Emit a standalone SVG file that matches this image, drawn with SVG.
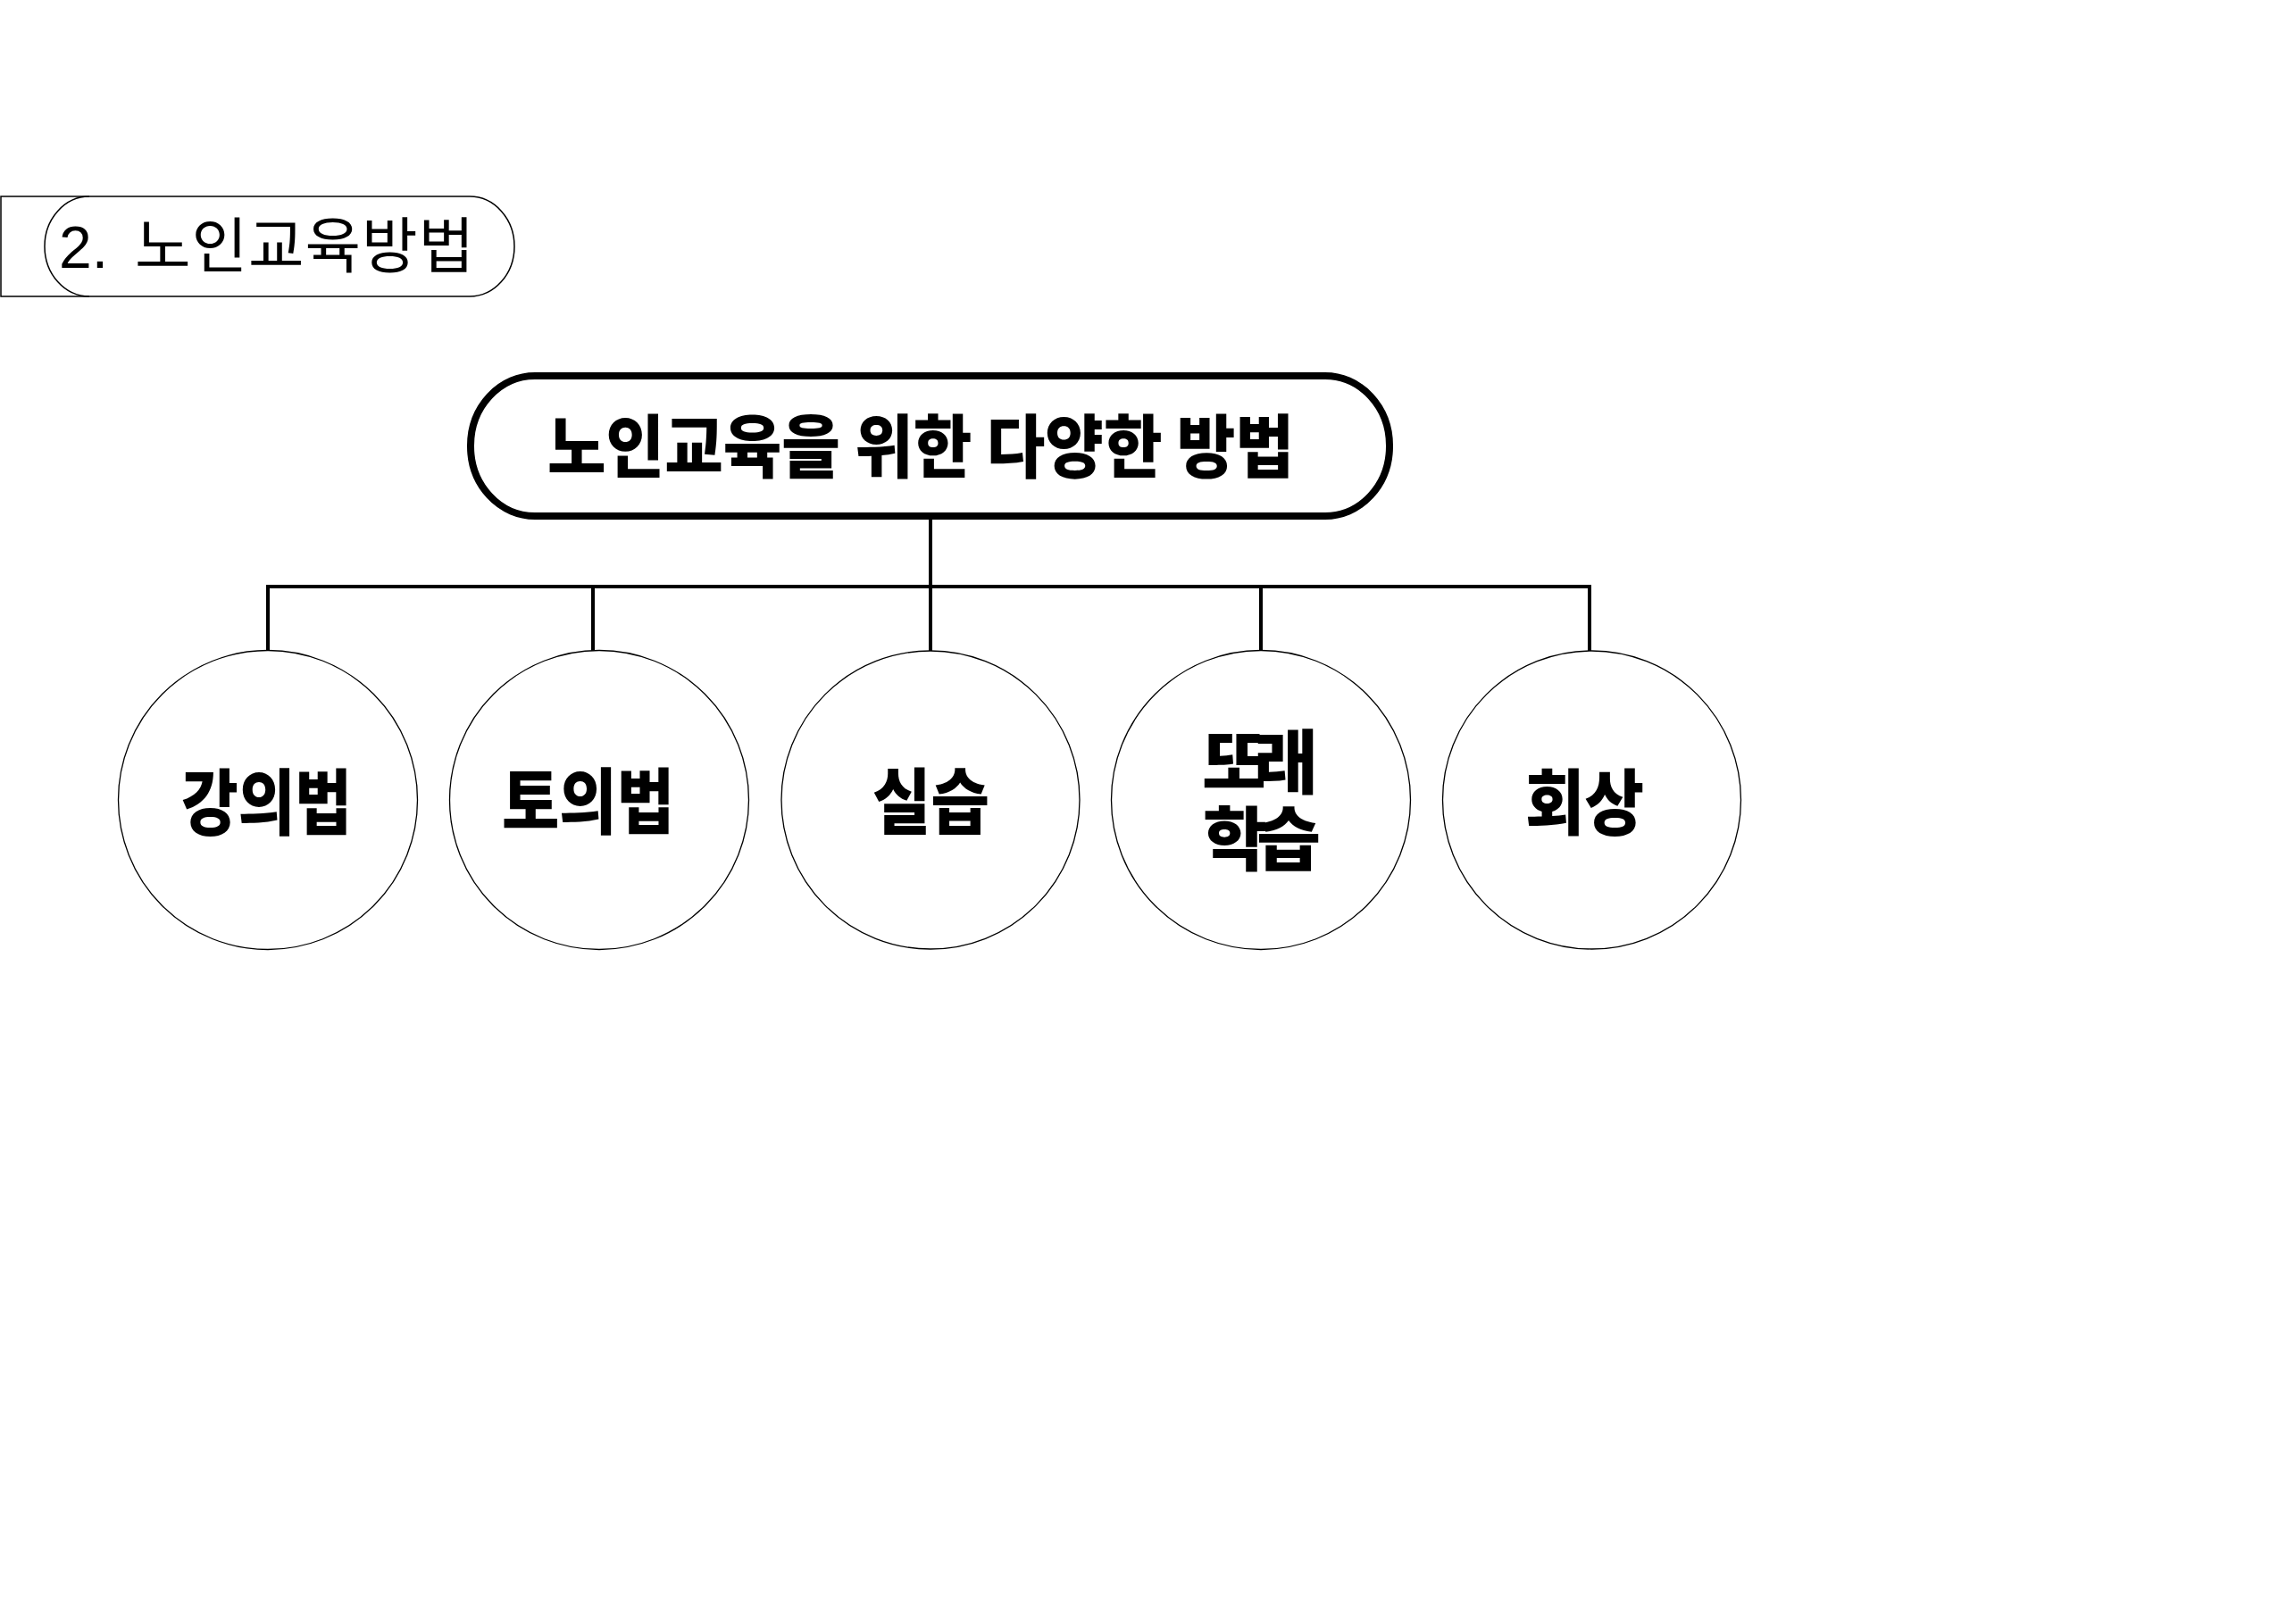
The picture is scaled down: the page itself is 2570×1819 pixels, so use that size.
<svg xmlns="http://www.w3.org/2000/svg" width="2570" height="1819" viewBox="0 0 2570 1819">
  <style>
    .thin { fill: none; stroke: #000; stroke-width: 1.5; }
    .circle { fill: #fff; stroke: #000; stroke-width: 1.3; }
    .pill { fill: #fff; stroke: #000; stroke-width: 8; }
    .conn { fill: none; stroke: #000; stroke-width: 4; stroke-linecap: square; stroke-linejoin: miter; }
    .hdr { font-family: "Liberation Sans", "Noto Sans CJK KR", sans-serif; font-size: 66px; fill: #000; }
    .hdrk { font-family: "Noto Sans CJK KR", sans-serif; font-size: 68px; }
    .bold { font-family: "Noto Sans CJK KR", sans-serif; font-weight: 900; fill: #000; }
  </style>
  <rect x="0" y="0" width="2570" height="1819" fill="#fff"/>

  <g id="section-title">
    <path class="thin" d="M1,220 H526 A50,56 0 0 1 526,332 H1 Z"/>
    <path class="thin" d="M100,220 A50,56 0 0 0 100,332"/>
    <text class="hdr" y="300"><tspan x="66">2. </tspan><tspan class="hdrk" x="151" textLength="380" lengthAdjust="spacing">노인교육방법</tspan></text>
  </g>

  <g id="connectors">
    <line class="conn" x1="1042" y1="582" x2="1042" y2="728"/>
    <polyline class="conn" points="300,728 300,657 1780,657 1780,728"/>
    <line class="conn" x1="664" y1="657" x2="664" y2="728"/>
    <line class="conn" x1="1412" y1="657" x2="1412" y2="728"/>
  </g>

  <g id="root">
    <rect class="pill" x="527" y="421" width="1029" height="157" rx="72" ry="78"/>
    <text class="bold" x="613" y="529" font-size="77" textLength="836" lengthAdjust="spacingAndGlyphs">노인교육을 위한 다양한 방법</text>
  </g>

  <g id="node-lecture">
    <circle class="circle" cx="300" cy="896" r="167.5"/>
    <text class="bold" x="203" y="928" font-size="80" textLength="191" lengthAdjust="spacingAndGlyphs">강의법</text>
  </g>

  <g id="node-discussion">
    <circle class="circle" cx="671" cy="896" r="167.5"/>
    <text class="bold" x="562" y="927" font-size="80" textLength="193" lengthAdjust="spacingAndGlyphs">토의법</text>
  </g>

  <g id="node-practice">
    <circle class="circle" cx="1042" cy="896" r="167"/>
    <text class="bold" x="977" y="927" font-size="80" textLength="131" lengthAdjust="spacingAndGlyphs">실습</text>
  </g>

  <g id="node-peer">
    <circle class="circle" cx="1412" cy="896" r="167.5"/>
    <text class="bold" font-size="78" lengthAdjust="spacingAndGlyphs"><tspan x="1346" y="883" textLength="130">또래</tspan><tspan x="1347" y="969" textLength="132">학습</tspan></text>
  </g>

  <g id="node-reminiscence">
    <circle class="circle" cx="1782.5" cy="896" r="167"/>
    <text class="bold" x="1708" y="928" font-size="80" textLength="133" lengthAdjust="spacingAndGlyphs">회상</text>
  </g>
</svg>
